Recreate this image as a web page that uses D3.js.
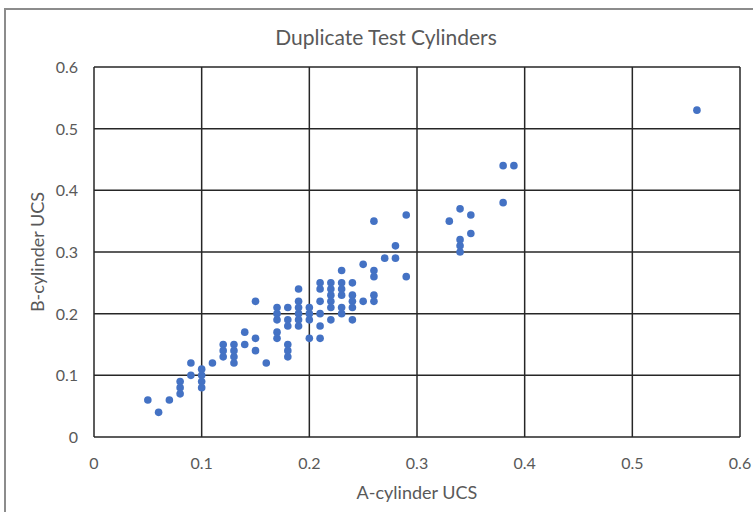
<!DOCTYPE html>
<html>
<head>
<meta charset="utf-8">
<script src="https://cdn.jsdelivr.net/npm/d3@7"></script>
<style>
  body { margin: 0; background: #fff; }
  text { font-family: Lato, "Open Sans", sans-serif; fill: #595959; }
</style>
</head>
<body>
<div id="chart"></div>
<script>
  // data: A-cylinder UCS vs B-cylinder UCS
  var aUCS = [0.05, 0.06, 0.07, 0.08, 0.08, 0.08, 0.09, 0.09, 0.10, 0.10, 0.10, 0.10, 0.11,
              0.12, 0.12, 0.12, 0.13, 0.13, 0.13, 0.13, 0.14, 0.14, 0.15, 0.15, 0.15, 0.16,
              0.17, 0.17, 0.17, 0.17, 0.17, 0.18, 0.18, 0.18, 0.18, 0.18, 0.18,
              0.19, 0.19, 0.19, 0.19, 0.19, 0.19, 0.20, 0.20, 0.20, 0.20,
              0.21, 0.21, 0.21, 0.21, 0.21, 0.21, 0.22, 0.22, 0.22, 0.22, 0.22, 0.22,
              0.23, 0.23, 0.23, 0.23, 0.23, 0.23, 0.24, 0.24, 0.24, 0.24, 0.24,
              0.25, 0.25, 0.26, 0.26, 0.26, 0.26, 0.26, 0.27, 0.28, 0.28, 0.29, 0.29,
              0.33, 0.34, 0.34, 0.34, 0.34, 0.35, 0.35, 0.38, 0.38, 0.39, 0.56];
  var bUCS = [0.06, 0.04, 0.06, 0.09, 0.08, 0.07, 0.12, 0.10, 0.11, 0.10, 0.09, 0.08, 0.12,
              0.15, 0.14, 0.13, 0.15, 0.14, 0.13, 0.12, 0.15, 0.17, 0.22, 0.16, 0.14, 0.12,
              0.21, 0.20, 0.19, 0.17, 0.16, 0.21, 0.19, 0.18, 0.15, 0.14, 0.13,
              0.24, 0.22, 0.21, 0.20, 0.19, 0.18, 0.21, 0.20, 0.19, 0.16,
              0.25, 0.24, 0.22, 0.20, 0.18, 0.16, 0.25, 0.24, 0.23, 0.22, 0.21, 0.19,
              0.27, 0.25, 0.24, 0.23, 0.21, 0.20, 0.25, 0.23, 0.22, 0.21, 0.19,
              0.28, 0.22, 0.35, 0.27, 0.26, 0.23, 0.22, 0.29, 0.31, 0.29, 0.36, 0.26,
              0.35, 0.37, 0.32, 0.31, 0.30, 0.36, 0.33, 0.38, 0.44, 0.44, 0.53];
  var xTicks = [0, 0.1, 0.2, 0.3, 0.4, 0.5, 0.6];
  var yTicks = [0, 0.1, 0.2, 0.3, 0.4, 0.5, 0.6];

  var w = 753, h = 512;
  var mLeft = 94, mRight = 740, mTop = 67, mBottom = 437;

  var svg = d3.select("#chart").append("svg")
      .attr("width", w)
      .attr("height", h);

  // outer frame of the chart object
  svg.append("rect")
      .attr("x", 5).attr("y", 9)
      .attr("width", 800).attr("height", 600)
      .attr("fill", "none")
      .attr("stroke", "#8c8c8c")
      .attr("stroke-width", 2);

  var x = d3.scaleLinear().domain([0, 0.6]).range([mLeft, mRight]);
  var y = d3.scaleLinear().domain([0, 0.6]).range([mBottom, mTop]);

  // gridlines
  svg.append("g").selectAll("line")
      .data(xTicks).enter().append("line")
      .attr("x1", d => x(d)).attr("x2", d => x(d))
      .attr("y1", mTop).attr("y2", mBottom)
      .attr("stroke", "#262626").attr("stroke-width", 1.5);
  svg.append("g").selectAll("line")
      .data(yTicks).enter().append("line")
      .attr("x1", mLeft).attr("x2", mRight)
      .attr("y1", d => y(d)).attr("y2", d => y(d))
      .attr("stroke", "#262626").attr("stroke-width", 1.5);

  // tick labels
  var fmt = d => d === 0 ? "0" : d3.format(".1f")(d);
  svg.append("g").selectAll("text")
      .data(xTicks).enter().append("text")
      .attr("x", d => x(d)).attr("y", 469)
      .attr("text-anchor", "middle")
      .style("font-size", "16px")
      .text(fmt);
  svg.append("g").selectAll("text")
      .data(yTicks).enter().append("text")
      .attr("x", 78).attr("y", d => y(d) + 6)
      .attr("text-anchor", "end")
      .style("font-size", "16px")
      .text(fmt);

  // points
  svg.append("g").selectAll("circle")
      .data(aUCS).enter().append("circle")
      .attr("cx", d => x(d))
      .attr("cy", (d, i) => y(bUCS[i]))
      .attr("r", 3.8)
      .attr("fill", "#4472c4");

  // titles
  svg.append("text")
      .attr("x", 386).attr("y", 45)
      .attr("text-anchor", "middle")
      .style("font-size", "21px")
      .text("Duplicate Test Cylinders");
  svg.append("text")
      .attr("x", (mLeft + mRight) / 2).attr("y", 499)
      .attr("text-anchor", "middle")
      .style("font-size", "18px")
      .text("A-cylinder UCS");
  svg.append("text")
      .attr("transform", "translate(44,252) rotate(-90)")
      .attr("text-anchor", "middle")
      .style("font-size", "18px")
      .text("B-cylinder UCS");
</script>
</body>
</html>
